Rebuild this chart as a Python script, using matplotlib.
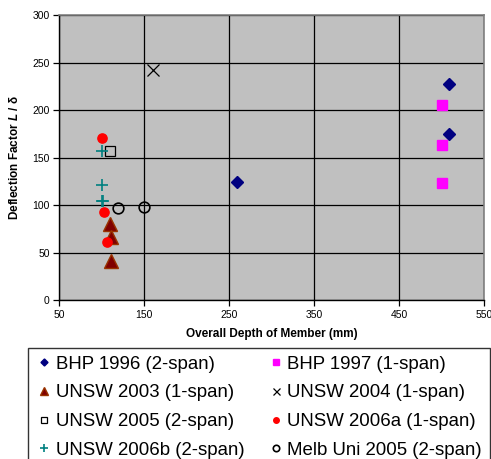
import matplotlib
matplotlib.use("Agg")
import matplotlib.pyplot as plt

plt.rcParams['font.family'] = ['Liberation Sans', 'DejaVu Sans']
plt.rcParams['mathtext.fontset'] = 'custom'
plt.rcParams['mathtext.it'] = 'Liberation Sans:italic:bold'
plt.rcParams['mathtext.rm'] = 'Liberation Sans:bold'

# Data
bhp1996_x = [259, 509, 508]
bhp1996_y = [125, 228, 175]
bhp1997_x = [500, 500, 500]
bhp1997_y = [206, 163, 123]
unsw2003_x = [110, 111, 111]
unsw2003_y = [80, 67, 41]
unsw2004_x = [160]
unsw2004_y = [242]
unsw2005_x = [110]
unsw2005_y = [157]
unsw2006a_x = [100, 102, 106]
unsw2006a_y = [171, 93, 61]
unsw2006b_x = [100, 100, 100, 101]
unsw2006b_y = [157, 121, 104, 105]
melb2005_x = [119, 150]
melb2005_y = [97, 98]

labels = ["BHP 1996 (2-span)", "BHP 1997 (1-span)", "UNSW 2003 (1-span)",
          "UNSW 2004 (1-span)", "UNSW 2005 (2-span)", "UNSW 2006a (1-span)",
          "UNSW 2006b (2-span)", "Melb Uni 2005 (2-span)"]

fig = plt.figure(figsize=(4.91, 4.59), dpi=100)
ax = fig.add_axes([0.1208, 0.3458, 0.8656, 0.6209])
ax.set_facecolor('#C0C0C0')

ms = 7
h = []
h += ax.plot(bhp1996_x, bhp1996_y, ls='none', marker='D', ms=ms*0.85, color='#000080', label=labels[0])
h += ax.plot(bhp1997_x, bhp1997_y, ls='none', marker='s', ms=ms*1.05, color='#FF00FF', label=labels[1])
h += ax.plot(unsw2003_x, unsw2003_y, ls='none', marker='^', ms=ms*1.4, color='#800000', mec='#993300', label=labels[2])
h += ax.plot(unsw2004_x, unsw2004_y, ls='none', marker='x', ms=ms*1.2, color='black', mew=0.9, label=labels[3])
h += ax.plot(unsw2005_x, unsw2005_y, ls='none', marker='s', ms=ms, mfc='none', mec='black', mew=0.9, label=labels[4])
h += ax.plot(unsw2006a_x, unsw2006a_y, ls='none', marker='o', ms=ms*0.95, color='#FF0000', label=labels[5])
h += ax.plot(unsw2006b_x, unsw2006b_y, ls='none', marker='+', ms=ms*1.3, color='#008080', mew=1.2, label=labels[6])
h += ax.plot(melb2005_x, melb2005_y, ls='none', marker='o', ms=ms*1.1, mfc='none', mec='black', mew=1.2, label=labels[7])

ax.set_xlim(50, 550)
ax.set_ylim(0, 300)
ax.set_xticks([50, 150, 250, 350, 450, 550])
ax.set_yticks([0, 50, 100, 150, 200, 250, 300])
ax.grid(True, color='black', lw=0.9)
ax.set_axisbelow(True)
ax.tick_params(direction='out', length=4, width=0.9, labelsize=7.5, color='black', pad=3)
for s in ['top', 'right']:
    ax.spines[s].set_color('#808080')
    ax.spines[s].set_linewidth(1.2)
for s in ['left', 'bottom']:
    ax.spines[s].set_color('black')
    ax.spines[s].set_linewidth(1.0)

ax.set_xlabel("Overall Depth of Member (mm)", fontsize=8.5, fontweight='bold', labelpad=6)
ax.set_ylabel("Deflection Factor $L$ / δ", fontsize=8.5, fontweight='bold', labelpad=8)

# matplotlib fills columns first; reorder so rows read left-right
hh = [h[0], h[2], h[4], h[6], h[1], h[3], h[5], h[7]]
ll = [labels[0], labels[2], labels[4], labels[6], labels[1], labels[3], labels[5], labels[7]]
leg = fig.legend(hh, ll, loc='upper left', bbox_to_anchor=(0.057, 0.2425), ncol=2,
                 fontsize=13.4, frameon=True, fancybox=False, edgecolor='black',
                 borderpad=0.42, labelspacing=0.63, handlelength=0.9, handletextpad=0.18,
                 columnspacing=1.22, markerscale=0.6, borderaxespad=0)
leg.get_frame().set_linewidth(1.0)

fig.savefig("out.png", dpi=100)
